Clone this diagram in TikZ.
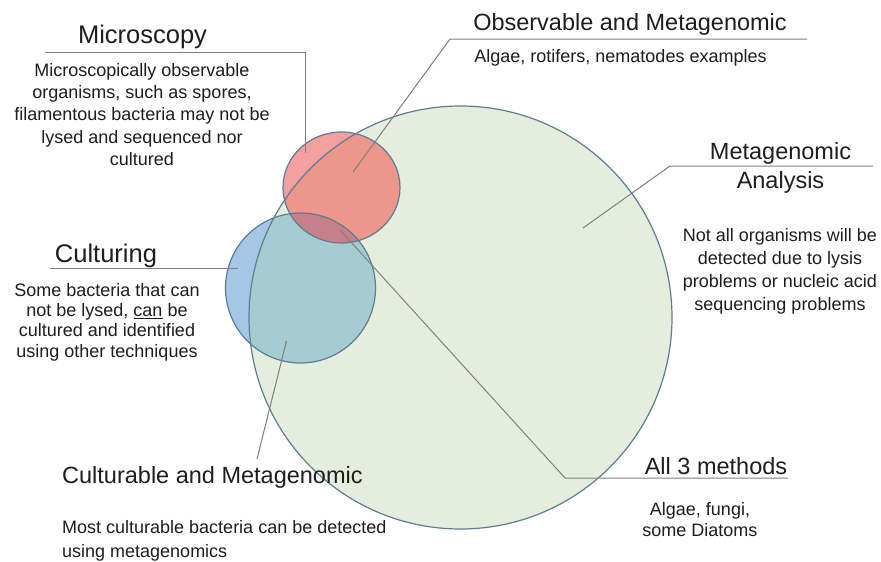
\documentclass[tikz,border=0pt]{standalone}
\usepackage{fontspec}
\setmainfont{Liberation Sans}
\definecolor{gfill}{RGB}{229,238,222}
\definecolor{redout}{RGB}{244,160,160}
\definecolor{redin}{RGB}{236,150,140}
\definecolor{blueout}{RGB}{166,198,230}
\definecolor{bluein}{RGB}{166,204,210}
\definecolor{lens}{RGB}{198,128,138}
\definecolor{rim}{RGB}{95,125,145}
\definecolor{lead}{RGB}{128,128,128}
\definecolor{txt}{RGB}{30,30,30}
\begin{document}
\begin{tikzpicture}[x=1pt,y=-1pt,
  title/.style={font=\fontsize{23.5}{28}\selectfont, anchor=base, inner sep=0pt, text=txt},
  bigtitle/.style={title, font=\fontsize{25.5}{30}\selectfont},
  body/.style={font=\fontsize{18}{22}\selectfont, align=center, anchor=north, inner sep=0pt, text=txt},
  leader/.style={draw=lead, line width=1pt},
  rimline/.style={draw=rim, line width=1.2pt}]
\useasboundingbox[fill=white] (0,0) rectangle (881,562);

% circles (fills per region)
\def\greenpath{(460.5,317.5) circle [radius=211.5]}
\def\redpath{(341.5,187.5) ellipse [x radius=58.5, y radius=55.5]}
\def\bluepath{(300.5,288) circle [radius=75]}
\fill[gfill] \greenpath;
\fill[redout] \redpath;
\begin{scope}
  \clip \greenpath;
  \fill[redin] \redpath;
\end{scope}
\fill[blueout] \bluepath;
\begin{scope}
  \clip \greenpath;
  \fill[bluein] \bluepath;
\end{scope}
\begin{scope}
  \clip \redpath;
  \fill[lens] \bluepath;
\end{scope}
\draw[rimline] \greenpath;
\draw[rimline] \redpath;
\draw[rimline] \bluepath;

% titles and texts
\node[bigtitle] (micT) at (142.5,43) {Microscopy};
\node[body, font=\fontsize{18}{22.1}\selectfont] (micB) at (142,62.5)
  {\rule{0pt}{14pt}Microscopically observable\\organisms, such as spores,\\filamentous bacteria may not be\\lysed and sequenced nor\\cultured};

\node[title] (obsT) at (630,30) {Observable and Metagenomic};
\node[body] (obsB) at (620.5,48) {\rule{0pt}{14pt}Algae, rotifers, nematodes examples};

\node[body, font=\fontsize{23.5}{29}\selectfont] (metT) at (780.5,141.5)
  {\rule{0pt}{18pt}Metagenomic\\Analysis};
\node[body, font=\fontsize{18}{22.8}\selectfont] (metB) at (780,227.7)
  {\rule{0pt}{14pt}Not all organisms will be\\detected due to lysis\\problems or nucleic acid\\sequencing problems};

\node[bigtitle] (culT) at (106,262) {Culturing};
\node[body, font=\fontsize{18}{20.3}\selectfont] (culB) at (107,282)
  {\rule{0pt}{14pt}Some bacteria that can\\not be lysed, \underline{can} be\\cultured and identified\\using other techniques};

\node[title, anchor=base west] (cmT) at (62,483.5) {Culturable and Metagenomic};
\node[body, align=left, anchor=north west, font=\fontsize{18}{24}\selectfont] (cmB) at (62,519.3)
  {\rule{0pt}{14pt}Most culturable bacteria can be detected\\using metagenomics};

\node[title] (allT) at (716,474) {All 3 methods};
\node[body, font=\fontsize{18}{21}\selectfont] (allB) at (700,501)
  {\rule{0pt}{14pt}Algae, fungi,\\some Diatoms};

% leader lines
\coordinate (m1) at (45,52);
\coordinate (m2) at (305,52);
\coordinate (m3) at (305,153);
\draw[leader] (m1) -- (m2) -- (m3);

\coordinate (o1) at (807,39);
\coordinate (o2) at (450,39);
\coordinate (o3) at (353,172);
\draw[leader] (o1) -- (o2) -- (o3);

\coordinate (a1) at (873,166);
\coordinate (a2) at (670,166);
\coordinate (a3) at (583,228);
\draw[leader] (a1) -- (a2) -- (a3);

\coordinate (c1) at (50,268);
\coordinate (c2) at (238,268);
\draw[leader] (c1) -- (c2);

\coordinate (k1) at (286.5,341);
\coordinate (k2) at (257,459);
\draw[leader] (k1) -- (k2);

\coordinate (t1) at (340,230);
\coordinate (t2) at (565,478);
\coordinate (t3) at (788,478);
\draw[leader] (t1) -- (t2) -- (t3);
\end{tikzpicture}
\end{document}
